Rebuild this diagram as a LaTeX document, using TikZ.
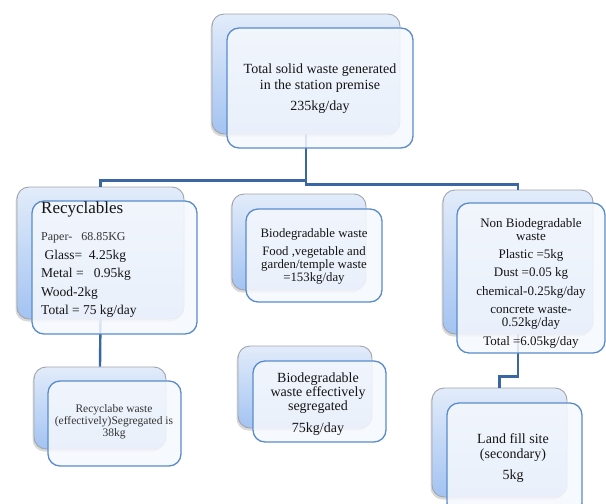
\documentclass[tikz,border=0pt]{standalone}
\usepackage{fontspec}
\setmainfont{Liberation Serif}
\usetikzlibrary{fit,shadows}
\definecolor{connc}{HTML}{3A67A3}
\definecolor{backline}{HTML}{A2A4AC}
\definecolor{backtop}{HTML}{E2ECFA}
\definecolor{backbot}{HTML}{A3C3F2}
\definecolor{frontline}{HTML}{5A8CCB}
\definecolor{frontfill}{HTML}{F5F8FD}
\definecolor{textc}{HTML}{141414}
\definecolor{greytext}{HTML}{333333}
\tikzset{
  backbox/.style={draw=backline, line width=0.9pt, rounded corners=12pt,
    top color=backtop, bottom color=backbot, inner sep=0pt,
    drop shadow={shadow xshift=-1.5pt, shadow yshift=-2.5pt, opacity=0.3}},
  frontbox/.style={draw=frontline, line width=1.3pt, rounded corners=12pt,
    fill=frontfill, fill opacity=0.86, inner sep=0pt},
  conn/.style={draw=connc, line width=2.4pt},
  txt/.style={align=center, text=textc, inner sep=0pt},
  ltxt/.style={align=left, text=textc, inner sep=0pt, anchor=west}
}
\begin{document}
\begin{tikzpicture}[x=1pt,y=-1pt]
\useasboundingbox (0,0) rectangle (606,504);
% back boxes
\node[backbox, fit={(212,14) (400,134)}] (topB) {};
\node[backbox, fit={(17,187) (184,319)}] (recB) {};
\node[backbox, fit={(232,194) (366,290)}] (bioB) {};
\node[backbox, fit={(443,190) (593,334)}] (nbB) {};
\node[backbox, fit={(34,367) (166,449)}] (rwB) {};
\node[backbox, fit={(238,346) (372,428)}] (bsB) {};
\node[backbox, fit={(432,388) (567,497)}] (lfB) {};
% connectors
\draw[conn] (topB.south) -- ++(0,46) -| (recB.north);
\draw[conn] (topB.south) -- ++(0,50) -| (nbB.north);
\draw[conn] (recB.south) -- (rwB.north);
\draw[conn] (nbB.south) -- ++(0,42) -| (lfB.north);
% front boxes
\node[frontbox, fit={(227,28) (413,148)}] (topF) {};
\node[frontbox, fit={(32,201) (197,334)}] (recF) {};
\node[frontbox, fit={(246,209) (382,302)}] (bioF) {};
\node[frontbox, fit={(457,203) (605,353)}] (nbF) {};
\node[frontbox, fit={(48,381) (181,466)}] (rwF) {};
\node[frontbox, fit={(253,361) (386,442)}] (bsF) {};
\node[frontbox, fit={(447,403) (582,515)}] (lfF) {};
% texts
\node[txt, font=\fontsize{14}{16}\selectfont] (topT) at (320,89)
  {Total solid waste generated\\in the station premise\\[5pt]235kg/day};
\node[ltxt, font=\fontsize{17}{20}\selectfont] (recTitle) at (41,209) {Recyclables};
\node[ltxt, font=\fontsize{13.5}{18.5}\selectfont] (recT) at (41,275)
  {{\fontsize{12}{18.5}\selectfont\color{greytext}Paper-\ \ \ 68.85KG}\\
   \ Glass=\ \ 4.25kg\\
   Metal =\ \ \ 0.95kg\\
   Wood-2kg\\
   Total =\ 75 kg/day};
\node[txt, font=\fontsize{12.8}{13}\selectfont] (bioT) at (314,256)
  {Biodegradable waste\\[5pt]Food ,vegetable and\\garden/temple waste\\=153kg/day};
\node[txt, font=\fontsize{13}{13.3}\selectfont] (nbT) at (531,283)
  {Non Biodegradable\\waste\\[5pt]Plastic =5kg\\[5pt]Dust =0.05 kg\\[5pt]chemical-0.25kg/day\\[5pt]concrete waste-\\0.52kg/day\\[5pt]Total =6.05kg/day};
\node[txt, text=greytext, font=\fontsize{11.5}{11.8}\selectfont] (rwT) at (114,422)
  {Recyclabe waste\\(effectively)Segregated is\\38kg};
\node[txt, font=\fontsize{14}{14}\selectfont] (bsT) at (318,404)
  {Biodegradable\\waste effectively\\segregated\\[8pt]75kg/day};
\node[txt, font=\fontsize{14}{15}\selectfont] (lfT) at (513,458)
  {Land fill site\\(secondary)\\[6pt]5kg};
\end{tikzpicture}
\end{document}
